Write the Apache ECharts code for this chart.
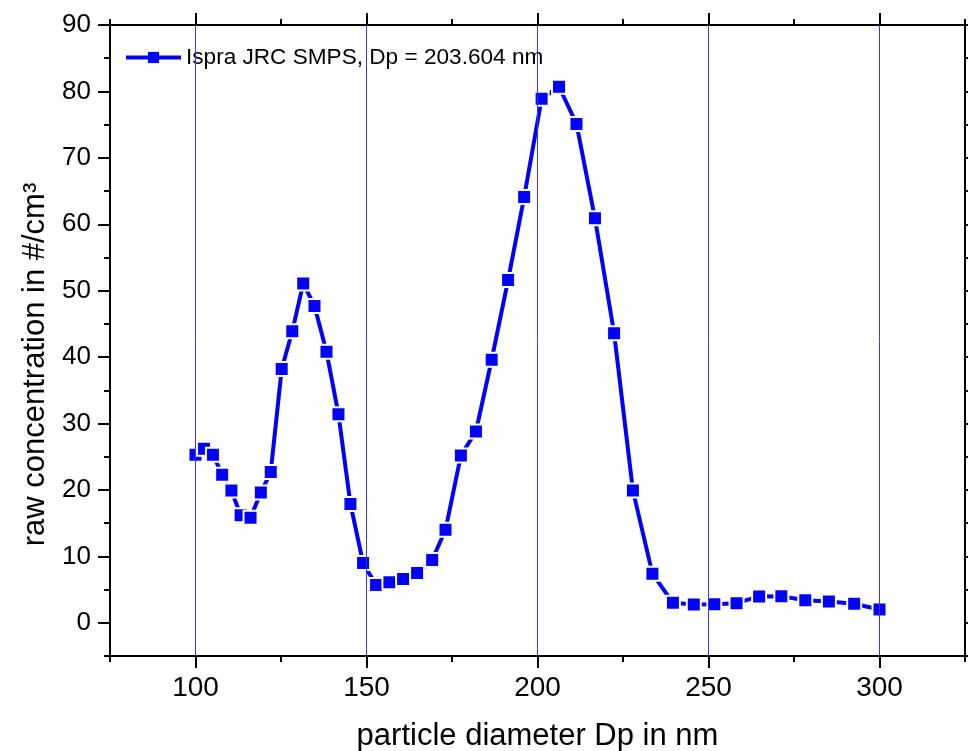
<!DOCTYPE html>
<html>
<head>
<meta charset="utf-8">
<script src="https://cdn.jsdelivr.net/npm/echarts@6/dist/echarts.min.js"></script>
<style>
html,body{margin:0;padding:0;background:#fff;}
#chart{width:968px;height:751px;}
</style>
</head>
<body>
<div id="chart"></div>
<script>
// ---- data ----
const seriesName = 'Ispra JRC SMPS, Dp = 203.604 nm';
const dp = [100, 102.5, 105.1, 107.8, 110.5, 113.2, 116.1, 119.1, 122.0, 125.2,
            128.3, 131.5, 134.8, 138.3, 141.8, 145.3, 149.0, 152.8, 156.7, 160.7,
            164.8, 169.2, 173.1, 177.6, 182.0, 186.6, 191.4, 196.1, 201.2, 206.3,
            211.4, 216.8, 222.4, 227.9, 233.6, 239.6, 245.7, 251.7, 258.2, 264.8,
            271.3, 278.3, 285.2, 292.6, 300.0];
const conc = [25.3, 26.2, 25.3, 22.3, 19.9, 16.2, 15.8, 19.6, 22.7, 38.2,
              43.9, 51.1, 47.7, 40.8, 31.4, 17.9, 9.0, 5.7, 6.1, 6.6,
              7.5, 9.45, 14.0, 25.2, 28.8, 39.6, 51.6, 64.1, 78.9, 80.7,
              75.1, 60.9, 43.6, 19.9, 7.4, 3.0, 2.76, 2.8, 2.96, 3.97,
              4.0, 3.4, 3.2, 2.86, 2.0];
const xMajorTicks = [100, 150, 200, 250, 300];
const xMinorTicks = [75, 125, 175, 225, 275, 325];
const yMajorTicks = [0, 10, 20, 30, 40, 50, 60, 70, 80, 90];
const yMinorTicks = [-5, 5, 15, 25, 35, 45, 55, 65, 75, 85];
const xRange = [75, 325];
const yRange = [-5, 90];
const gridLinesX = [100, 150, 200, 250, 300];
const xTitle = 'particle diameter Dp in nm';
const yTitle = 'raw concentration in #/cm³';

// ---- chart ----
const FONT = 'Liberation Sans, Arial, sans-serif';
const chart = echarts.init(document.getElementById('chart'), null, {renderer: 'canvas'});

function xAx(pos, ticks, len, withLabels) {
  return {
    type: 'value', position: pos, min: xRange[0], max: xRange[1],
    axisLine: {show: true, onZero: false, lineStyle: {color: '#000', width: 2}},
    axisTick: {show: true, inside: false, length: len, customValues: ticks, lineStyle: {color: '#000', width: 2}},
    axisLabel: withLabels ? {show: true, customValues: ticks, fontSize: 28, color: '#000', fontFamily: FONT, margin: 18} : {show: false},
    splitLine: {show: false},
    name: withLabels ? xTitle : '',
    nameLocation: 'middle', nameGap: 65,
    nameTextStyle: {fontSize: 31, color: '#000', fontFamily: FONT}
  };
}
function yAx(pos, ticks, len, withLabels) {
  return {
    type: 'value', position: pos, min: yRange[0], max: yRange[1],
    axisLine: {show: true, onZero: false, lineStyle: {color: '#000', width: 2}},
    axisTick: {show: true, inside: false, length: len, customValues: ticks, lineStyle: {color: '#000', width: 2}},
    axisLabel: withLabels ? {show: true, customValues: ticks, fontSize: 26, color: '#000', fontFamily: FONT, margin: 19} : {show: false},
    splitLine: {show: false},
    name: withLabels ? yTitle : '',
    nameLocation: 'middle', nameGap: 58, nameRotate: 90,
    nameTextStyle: {fontSize: 31, color: '#000', fontFamily: FONT, padding: [0, 48, 0, 0]}
  };
}

const option = {
  animation: false,
  backgroundColor: '#fff',
  grid: {left: 110, right: 3, top: 25, bottom: 95, containLabel: false, outerBoundsMode: 'none'},
  legend: {
    data: [seriesName],
    left: 124, top: 46, padding: 0,
    itemWidth: 55, itemHeight: 14, itemGap: 5,
    lineStyle: {width: 4, color: '#0000ff'},
    itemStyle: {color: '#0000ff', borderWidth: 0},
    textStyle: {fontSize: 22.6, color: '#000', fontFamily: FONT}
  },
  xAxis: [
    xAx('bottom', xMajorTicks, 12, true),
    xAx('bottom', xMinorTicks, 6, false),
    xAx('top', xMajorTicks, 12, false),
    xAx('top', xMinorTicks, 6, false)
  ],
  yAxis: [
    yAx('left', yMajorTicks, 12, true),
    yAx('left', yMinorTicks, 6, false),
    yAx('right', yMajorTicks, 12, false),
    yAx('right', yMinorTicks, 6, false)
  ],
  series: [
    {
      name: 'grid', type: 'line', data: [], z: 1, silent: true,
      xAxisIndex: 0, yAxisIndex: 0,
      markLine: {
        silent: true, symbol: 'none', label: {show: false},
        lineStyle: {color: '#3535ff', width: 1, type: 'solid'},
        data: gridLinesX.map(v => ({xAxis: v}))
      }
    },
    {
      name: seriesName, type: 'line', z: 3,
      xAxisIndex: 0, yAxisIndex: 0,
      data: dp.map((x, i) => [x, conc[i]]),
      symbol: 'rect', symbolSize: 14, showSymbol: true,
      lineStyle: {color: '#0000ff', width: 4},
      itemStyle: {color: '#0000ff', borderColor: '#ffffff', borderWidth: 2},
      emphasis: {disabled: true}
    }
  ]
};
chart.setOption(option);
</script>
</body>
</html>
